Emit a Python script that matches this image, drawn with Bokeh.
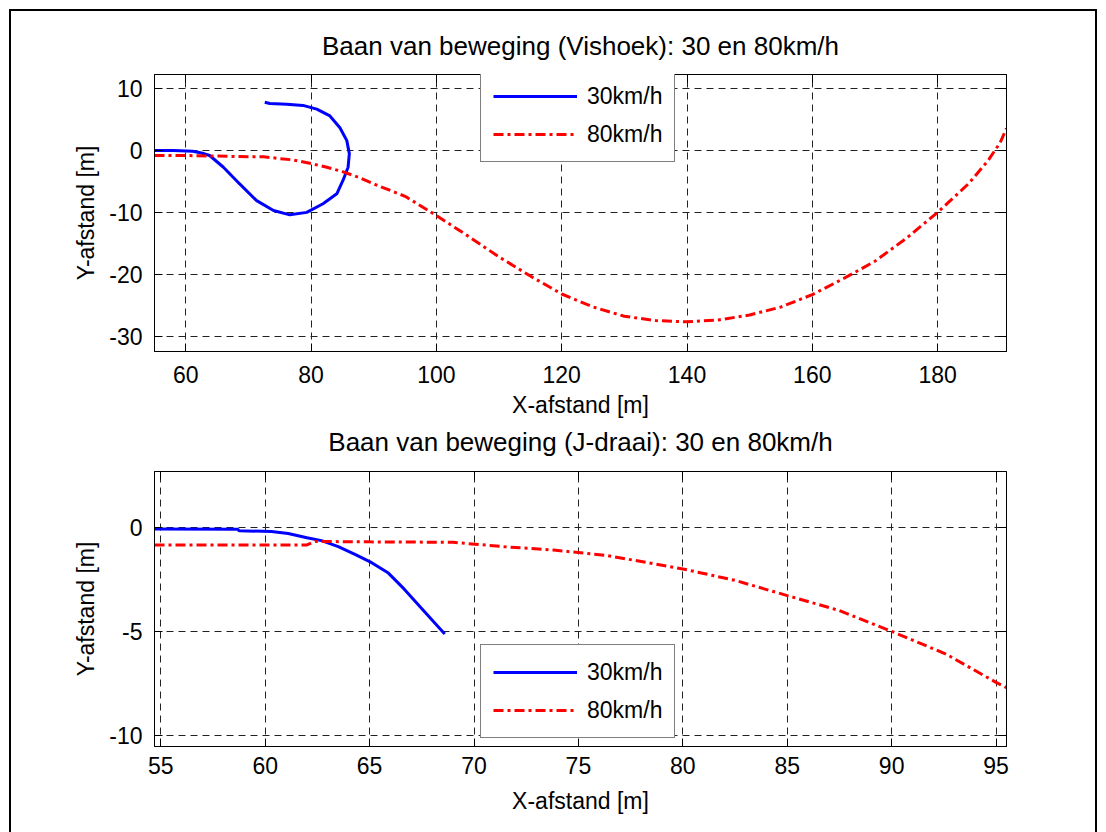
from bokeh.plotting import figure
from bokeh.models import Range1d, FixedTicker, LinearAxis, Legend, LegendItem, Div, Title
from bokeh.layouts import column
from bokeh.embed import file_html
from bokeh.resources import INLINE

# ---- data: top panel (Vishoek) ----
x30_top = [55.0, 58.0, 61.1, 62.5, 63.8, 66.0, 68.6, 71.3, 74.0, 76.6, 79.3, 81.9,
           84.1, 85.1, 85.9, 86.1, 85.7, 84.6, 83.0, 80.9, 78.7, 76.1, 73.4, 72.6]
y30_top = [0.0, 0.0, -0.1, -0.4, -0.8, -2.7, -5.4, -8.1, -9.7, -10.4, -10.0, -8.6,
           -7.0, -4.8, -2.7, -0.5, 1.6, 3.7, 5.6, 6.7, 7.3, 7.5, 7.6, 7.8]
x80_top = [55, 60, 65, 70, 72.4, 75, 77, 80, 82.5, 85, 87.5, 90, 95, 100, 105, 110,
           115, 120, 125, 130, 135, 140, 145, 150, 155, 160, 165, 170, 175, 180,
           185, 188, 190, 191]
y80_top = [-0.8, -0.8, -0.9, -1.0, -1.0, -1.3, -1.5, -2.1, -2.7, -3.4, -4.3, -5.4,
           -7.4, -10.5, -13.8, -17.2, -20.3, -23.2, -25.3, -26.8, -27.5, -27.7,
           -27.4, -26.6, -25.3, -23.3, -20.7, -17.9, -14.2, -10.0, -5.3, -1.7, 1.3, 3.6]
xticks_top = [60, 80, 100, 120, 140, 160, 180]
yticks_top = [-30, -20, -10, 0, 10]

# ---- data: bottom panel (J-draai) ----
x30_bot = [54.7, 58.7, 58.75, 60.3, 61.1, 62.0, 62.7, 63.5, 64.3, 65.1, 65.9,
           66.65, 67.45, 68.1, 68.6]
y30_bot = [-0.08, -0.1, -0.17, -0.2, -0.3, -0.5, -0.64, -0.93, -1.3, -1.7, -2.2,
           -2.96, -3.85, -4.57, -5.13]
x80_bot = [54.7, 62.0, 62.4, 65, 69, 71.4, 73.8, 76.4, 80, 82.5, 85, 87.5, 90,
           92.6, 95, 95.5]
y80_bot = [-0.85, -0.85, -0.68, -0.7, -0.72, -0.93, -1.09, -1.36, -2.0, -2.55,
           -3.28, -4.0, -5.0, -6.09, -7.45, -7.7]
xticks_bot = [55, 60, 65, 70, 75, 80, 85, 90, 95]
yticks_bot = [-10, -5, 0]

labels = ["30km/h", "80km/h"]
titles = ["Baan van beweging (Vishoek): 30 en 80km/h",
          "Baan van beweging (J-draai): 30 en 80km/h"]

FONT = "Liberation Sans"
FS = "23px"


def style_title(t, standoff):
    t.text_font = FONT
    t.text_font_size = "26px"
    t.text_font_style = "normal"
    t.text_color = "black"
    t.align = "center"
    t.standoff = standoff


def style_axis(ax, ticks, show_labels=True, standoff=8):
    ax.ticker = FixedTicker(ticks=ticks, minor_ticks=[])
    ax.major_tick_in = 8
    ax.major_tick_out = 0
    ax.minor_tick_in = 0
    ax.minor_tick_out = 0
    ax.axis_line_color = "black"
    ax.major_tick_line_color = "black"
    ax.major_label_text_font = FONT
    ax.major_label_text_color = "black"
    ax.major_label_text_font_size = FS
    if show_labels:
        ax.major_label_standoff = standoff
        ax.major_label_overrides = {t: str(t) for t in ticks}
    else:
        ax.major_label_standoff = 0
        ax.major_label_overrides = {t: "" for t in ticks}
    ax.axis_label_text_font = FONT
    ax.axis_label_text_font_size = FS
    ax.axis_label_text_font_style = "normal"
    ax.axis_label_text_color = "black"


def make_fig(height, top, bottom, xr, yr, xt, yt, xs30, ys30, xs80, ys80,
             legend_loc, x_tick_standoff, x_label_standoff):
    p = figure(width=1106, height=height, x_range=Range1d(*xr), y_range=Range1d(*yr),
               output_backend="svg", toolbar_location=None,
               min_border_left=154, min_border_right=100,
               min_border_top=top, min_border_bottom=bottom)
    p.outline_line_color = "black"
    p.background_fill_color = "white"
    p.border_fill_color = "white"

    style_axis(p.xaxis[0], xt, standoff=x_tick_standoff)
    style_axis(p.yaxis[0], yt, standoff=12)
    p.xaxis[0].axis_label = "X-afstand [m]"
    p.yaxis[0].axis_label = "Y-afstand [m]"
    p.xaxis[0].axis_label_standoff = x_label_standoff
    p.yaxis[0].axis_label_standoff = 7

    ax_top = LinearAxis()
    style_axis(ax_top, xt, show_labels=False)
    p.add_layout(ax_top, "above")
    ax_right = LinearAxis()
    style_axis(ax_right, yt, show_labels=False)
    p.add_layout(ax_right, "right")

    for g, t in ((p.xgrid, xt), (p.ygrid, yt)):
        g.ticker = FixedTicker(ticks=t, minor_ticks=[])
        g.grid_line_color = "#222222"
        g.grid_line_width = 1
        g.grid_line_dash = "7 5"

    r1 = p.line(xs30, ys30, line_color="#0000ff", line_width=3)
    r2 = p.line(xs80, ys80, line_color="#ff0000", line_width=3, line_dash="10 4 3 4")

    leg = Legend(items=[LegendItem(label=labels[0], renderers=[r1]),
                        LegendItem(label=labels[1], renderers=[r2])],
                 location=legend_loc)
    leg.label_text_font = FONT
    leg.label_text_font_size = FS
    leg.label_text_color = "black"
    leg.border_line_color = "black"
    leg.border_line_width = 1
    leg.background_fill_color = "white"
    leg.background_fill_alpha = 1
    leg.glyph_width = 84
    leg.glyph_height = 30
    leg.label_height = 30
    leg.spacing = 8
    leg.padding = 12
    leg.label_standoff = 10
    leg.margin = 0
    p.add_layout(leg)
    return p


p1 = make_fig(460, 74, 109, (55, 191), (-32.5, 12.3), xticks_top, yticks_top,
              x30_top, y30_top, x80_top, y80_top, (326, 189), 14, 6)
t1 = Title(text=titles[0])
style_title(t1, 28)
p1.add_layout(t1, "above")
# the second panel's title sits in the space below the first panel's x-axis
t2 = Title(text=titles[1])
style_title(t2, 8)
p1.add_layout(t2, "below")

p2 = make_fig(372, 11, 86, (54.7, 95.5), (-10.53, 2.68), xticks_bot, yticks_bot,
              x30_bot, y30_bot, x80_bot, y80_bot, (326, 8), 10, 11)

frame = Div(text='<div style="position:fixed;left:9px;top:9px;width:1088px;height:900px;'
                 'box-sizing:border-box;border:2px solid black;pointer-events:none;'
                 'z-index:10"></div>',
            width=0, height=0)

layout = column(p1, p2, frame, spacing=0)
open("out.html", "w").write(file_html(layout, INLINE))
